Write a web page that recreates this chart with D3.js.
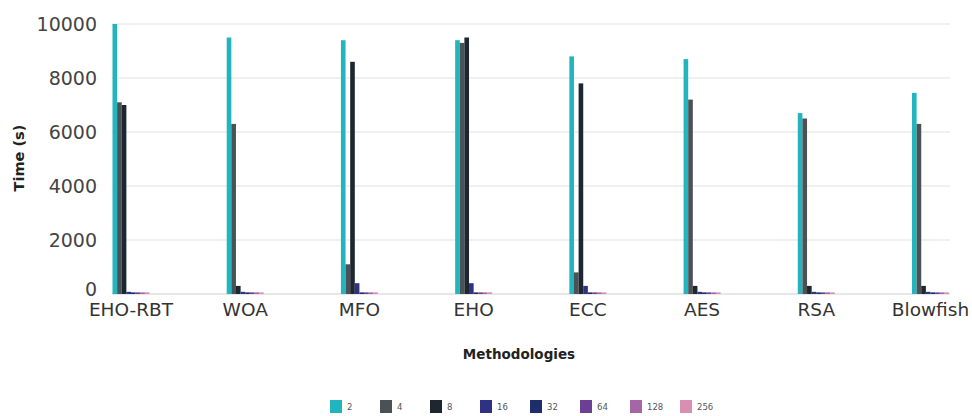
<!DOCTYPE html>
<html><head><meta charset="utf-8">
<script src="https://cdn.jsdelivr.net/npm/d3@7"></script>
<style>body{margin:0;background:#fff}svg{display:block}</style>
</head><body>
<svg id="c" width="972" height="416"></svg>
<script>
const categories = ["EHO-RBT","WOA","MFO","EHO","ECC","AES","RSA","Blowfish"];
const seriesNames = ["2","4","8","16","32","64","128","256"];
const s2   = [10000,9500,9400,9400,8800,8700,6700,7450];
const s4   = [7100,6300,1100,9300,800,7200,6500,6300];
const s8   = [7000,300,8600,9500,7800,300,300,300];
const s16  = [80,80,400,400,300,80,80,80];
const s32  = [60,60,60,60,60,60,60,60];
const s64  = [60,60,60,60,60,60,60,60];
const s128 = [60,60,60,60,60,60,60,60];
const s256 = [60,60,60,60,60,60,60,60];
const seriesValues = [s2,s4,s8,s16,s32,s64,s128,s256];
const yTicks = [0,2000,4000,6000,8000,10000];
const colors = ["#22b5bd","#4a5256","#1e2630","#2f3282","#1f2d6b","#6b3f93","#a566a5","#d98fb1"];

const svg = d3.select("#c");
const font = "'DejaVu Sans', sans-serif";
const y = d3.scaleLinear().domain([0,10000]).range([294,24]);
const x0 = d3.scaleBand().domain(categories).range([112.5,949]).paddingInner(0.676).paddingOuter(0);
const x1 = d3.scaleBand().domain(seriesNames).range([0,x0.bandwidth()]).padding(0);

// grid
svg.append("g").selectAll("line").data(yTicks).join("line")
  .attr("x1",112).attr("x2",950)
  .attr("y1",d=>y(d)).attr("y2",d=>y(d))
  .attr("stroke",d=>d===0?"#cfcfcf":"#e2e2e2").attr("stroke-width",1.2);

// y axis labels
const yAxis = d3.axisLeft(y).tickValues(yTicks).tickSize(0).tickPadding(0).tickFormat(d3.format("d"));
const ya = svg.append("g").attr("transform","translate(97,0)").call(yAxis);
ya.select(".domain").remove();
ya.selectAll("text").attr("font-family",font).attr("font-size",19).attr("fill","#444");
ya.selectAll(".tick").filter(d=>d===0).select("text").attr("dy","0.1em");

// bars
const g = svg.append("g");
categories.forEach((c,ci)=>{
  seriesNames.forEach((s,si)=>{
    const v = seriesValues[si][ci];
    g.append("rect")
      .attr("x",x0(c)+x1(s)).attr("width",x1.bandwidth())
      .attr("y",y(v)).attr("height",y(0)-y(v))
      .attr("fill",colors[si]);
  });
});

// x axis labels
const xAxis = d3.axisBottom(x0).tickSize(0).tickPadding(0);
const xa = svg.append("g").attr("transform","translate(0,300)").call(xAxis);
xa.select(".domain").remove();
xa.selectAll("text").attr("font-family",font).attr("font-size",18.5).attr("fill","#333").attr("dy","0.85em");

// axis titles
svg.append("text").attr("x",519).attr("y",359).attr("text-anchor","middle")
  .attr("font-family",font).attr("font-weight","bold").attr("font-size",13.5).attr("fill","#222").text("Methodologies");
svg.append("text").attr("transform","translate(24,158) rotate(-90)").attr("text-anchor","middle")
  .attr("font-family",font).attr("font-weight","bold").attr("font-size",14.5).attr("fill","#222").text("Time (s)");

// legend
const lg = svg.append("g");
seriesNames.forEach((s,i)=>{
  const lx = 330 + i*50;
  lg.append("rect").attr("x",lx).attr("y",400).attr("width",12).attr("height",13).attr("fill",colors[i]);
  lg.append("text").attr("x",lx+17).attr("y",410).attr("font-family",font).attr("font-size",8.5).attr("fill","#555").text(s);
});
</script>
</body></html>
